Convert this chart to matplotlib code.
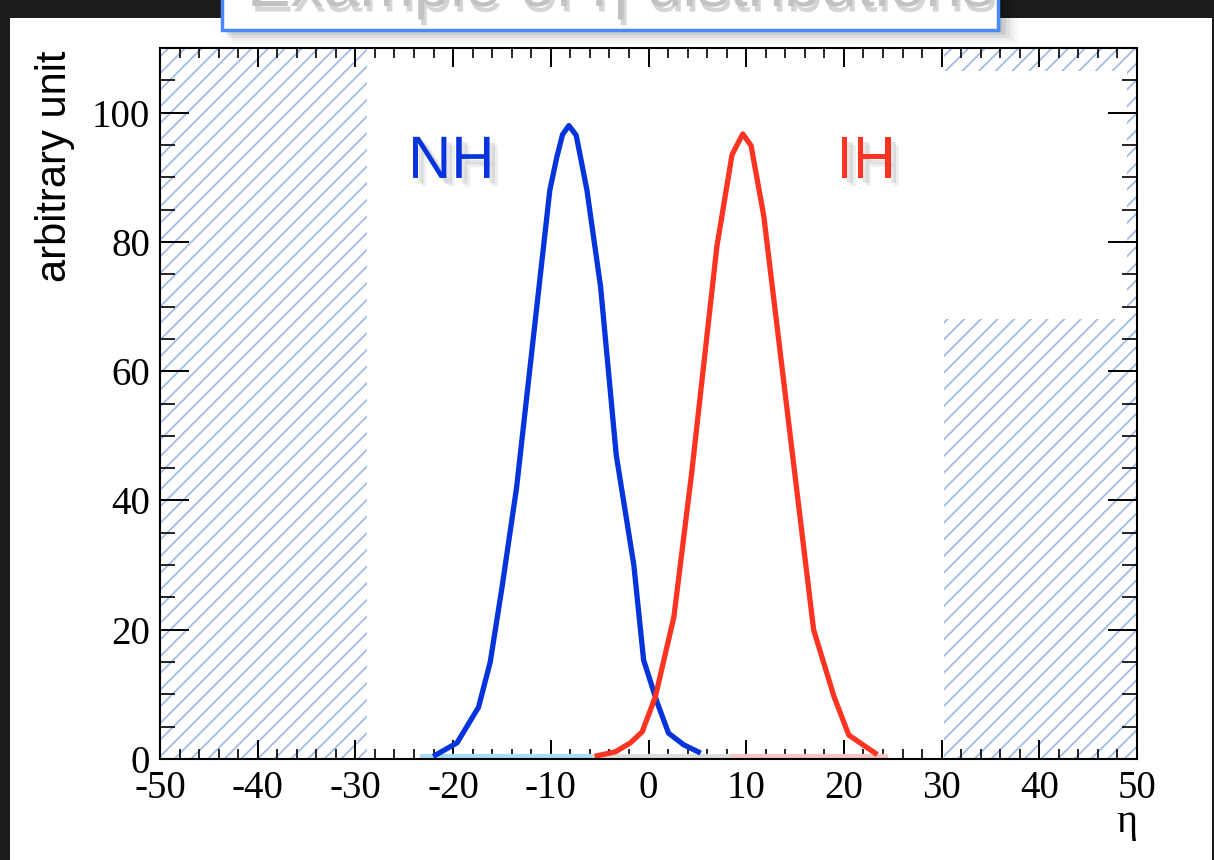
import matplotlib
matplotlib.use('Agg')
import matplotlib.pyplot as plt
import matplotlib.patheffects as pe
from matplotlib.patches import Rectangle
from matplotlib.ticker import MultipleLocator

# eta distributions
nh_eta = [-21.8, -19.6, -17.4, -16.2, -15.0, -13.5, -10.1, -9.4, -8.8, -8.15,
          -7.4, -6.3, -4.9, -3.3, -1.5, -0.5, 0.9, 2.05, 3.6, 5.1]
nh_val = [0.6, 2.5, 8.0, 15.0, 26.5, 42.0, 88.0, 93.0, 96.6, 98.0,
          96.5, 88.0, 73.0, 47.0, 30.0, 15.3, 8.7, 4.0, 2.2, 1.1]

ih_eta = [-5.25, -3.4, -1.85, -0.65, 0.7, 2.6, 4.4, 7.0, 8.55, 9.65,
          10.5, 11.8, 16.9, 19.0, 20.5, 23.2]
ih_val = [0.5, 1.1, 2.5, 4.2, 9.6, 22.0, 44.0, 79.3, 93.5, 96.7,
          94.9, 84.0, 20.0, 9.6, 3.7, 0.9]

# faint bands along the baseline
nh_band = [-23.2, -5.6]
mid_band = [-5.6, 8.7]
ih_band = [8.7, 24.3]

# hatched (excluded) regions
left_region = [-50.0, -28.8]
right_region = [30.2, 50.0]
blank_box = [30.2, 49.0, 68.0, 106.4]   # x0, x1, y0, y1

xticks = list(range(-50, 51, 10))
yticks = list(range(0, 101, 20))

W, H = 1214, 860
plt.rcParams['axes.unicode_minus'] = False
plt.rcParams['hatch.linewidth'] = 1.3

fig = plt.figure(figsize=(W / 100, H / 100), dpi=100)
fig.patch.set_facecolor('#1c1c1c')
fig.add_artist(Rectangle((10 / W, 0), (1212 - 10) / W, (H - 18) / H,
                         transform=fig.transFigure, facecolor='white',
                         edgecolor='none', zorder=0))

# title box at the top of the slide (mostly cut off)
for i, a in enumerate([0.10, 0.08, 0.06, 0.04, 0.03]):
    fig.add_artist(Rectangle(((224 + 2 * i) / W, 1 - (32 + 3 * i) / H),
                             (778 + 2 * i) / W, 60 / H,
                             transform=fig.transFigure, facecolor='black',
                             edgecolor='none', alpha=a, zorder=1))
fig.add_artist(Rectangle((222 / W, 1 - 30 / H), (998 - 222) / W, 60 / H,
                         transform=fig.transFigure, facecolor='white',
                         edgecolor='#4a8af4', lw=2.5, zorder=2))
fig.text(247 / W, 1 - 6 / H, 'Example of η distributions', fontsize=47,
         color='#c2c2c2', va='baseline', family='Liberation Sans', zorder=3,
         path_effects=[pe.SimplePatchShadow(offset=(2, -4), shadow_rgbFace='#777777', alpha=0.3),
                       pe.Normal()])

ax = fig.add_axes([160 / W, 1 - 759 / H, (1137 - 160) / W, (759 - 48) / H])
ax.set_facecolor('white')
ax.set_zorder(2)

hatch_col = '#a3bbe8'
ax.add_patch(Rectangle((left_region[0], 0), left_region[1] - left_region[0], 110,
                       facecolor='none', edgecolor=hatch_col, hatch='//', lw=0, zorder=1))
ax.add_patch(Rectangle((right_region[0], 0), right_region[1] - right_region[0], 110,
                       facecolor='none', edgecolor=hatch_col, hatch='//', lw=0, zorder=1))
ax.add_patch(Rectangle((blank_box[0], blank_box[2]), blank_box[1] - blank_box[0],
                       blank_box[3] - blank_box[2], facecolor='white',
                       edgecolor='none', zorder=1.5))

ax.plot(nh_band, [0.45, 0.45], color='#a6dcf4', lw=3, zorder=2)
ax.plot(mid_band, [0.45, 0.45], color='#dddddd', lw=3, zorder=2)
ax.plot(ih_band, [0.45, 0.45], color='#f8c4c4', lw=3, zorder=2)

ax.plot(nh_eta, nh_val, color='#0533dc', lw=3.8, zorder=3)
ax.plot(ih_eta, ih_val, color='#ff3322', lw=3.8, zorder=3)

shadow = [pe.SimplePatchShadow(offset=(4, -4), shadow_rgbFace='#999999', alpha=0.25),
          pe.SimplePatchShadow(offset=(6, -6), shadow_rgbFace='#999999', alpha=0.15),
          pe.Normal()]
ax.text(-24.6, 89.9, 'NH', color='#0533dc', fontsize=43, family='Liberation Sans',
        va='baseline', path_effects=shadow, zorder=4)
ax.text(19.2, 89.9, 'IH', color='#ff3322', fontsize=43, family='Liberation Sans',
        va='baseline', path_effects=shadow, zorder=4)

ax.set_xlim(-50, 50)
ax.set_ylim(0, 110)
ax.set_xticks(xticks)
ax.set_yticks(yticks)
ax.xaxis.set_minor_locator(MultipleLocator(2))
ax.yaxis.set_minor_locator(MultipleLocator(5))
ax.tick_params(axis='both', which='both', direction='in', top=True, right=True,
               labelsize=28, colors='black')
ax.tick_params(axis='x', which='major', length=14, width=1.4, pad=8)
ax.tick_params(axis='x', which='minor', length=7, width=1.2)
ax.tick_params(axis='y', which='major', length=21, width=1.4, pad=7)
ax.tick_params(axis='y', which='minor', length=11, width=1.2)
for lab in ax.get_xticklabels() + ax.get_yticklabels():
    lab.set_family('Liberation Serif')
for s in ax.spines.values():
    s.set_linewidth(1.5)
    s.set_zorder(5)

ax.text(1.0, -0.1027, 'η', transform=ax.transAxes, ha='right', va='baseline',
        fontsize=29, family='Liberation Serif')
ax.text(-0.1075, 0.997, 'arbitrary unit', transform=ax.transAxes, ha='center',
        va='top', rotation=90, fontsize=30, family='Liberation Sans')

fig.savefig('out.png', dpi=100, facecolor=fig.get_facecolor())
